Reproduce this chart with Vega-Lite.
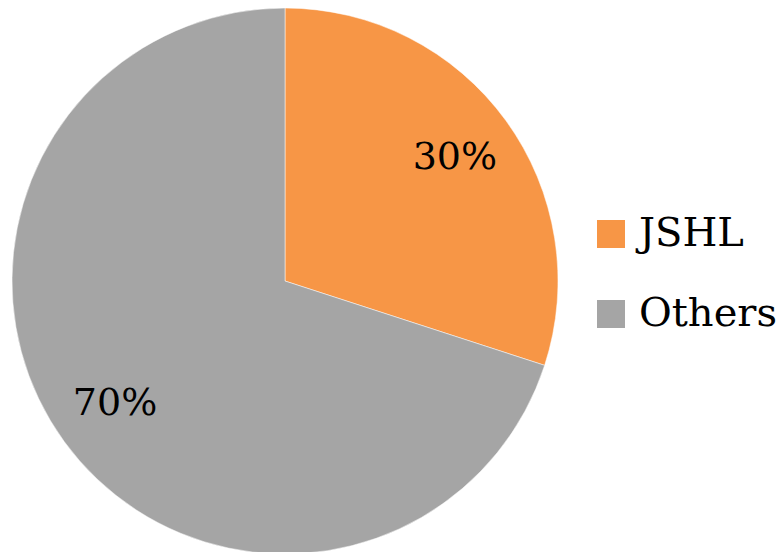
{
  "$schema": "https://vega.github.io/schema/vega-lite/v6.json",
  "width": 570,
  "height": 562,
  "padding": 0,
  "autosize": {"type": "pad"},
  "background": "white",
  "config": {"view": {"stroke": null}, "font": "DejaVu Serif"},
  "data": {"values": [
    {"category": "JSHL", "value": 30, "label": "30%"},
    {"category": "Others", "value": 70, "label": "70%"}
  ]},
  "encoding": {
    "theta": {"field": "value", "type": "quantitative", "stack": true},
    "color": {
      "field": "category", "type": "nominal",
      "scale": {"domain": ["JSHL", "Others"], "range": ["#F79646", "#A5A5A5"]},
      "legend": {
        "title": null, "orient": "none", "legendX": 591, "legendY": 214,
        "symbolType": "square", "symbolSize": 784, "symbolStrokeWidth": 0,
        "labelFont": "DejaVu Serif", "labelFontSize": 40, "labelColor": "black",
        "labelOffset": 8, "rowPadding": 40, "labelLimit": 300
      }
    },
    "order": {"field": "value", "type": "quantitative", "sort": "ascending"}
  },
  "layer": [
    {"mark": {"type": "arc", "outerRadius": 273, "stroke": "white", "strokeWidth": 0.5}},
    {"mark": {"type": "text", "radius": 210, "fontSize": 38, "font": "DejaVu Serif", "color": "black"},
     "encoding": {"text": {"field": "label"}, "color": {"value": "black"}}}
  ]
}
